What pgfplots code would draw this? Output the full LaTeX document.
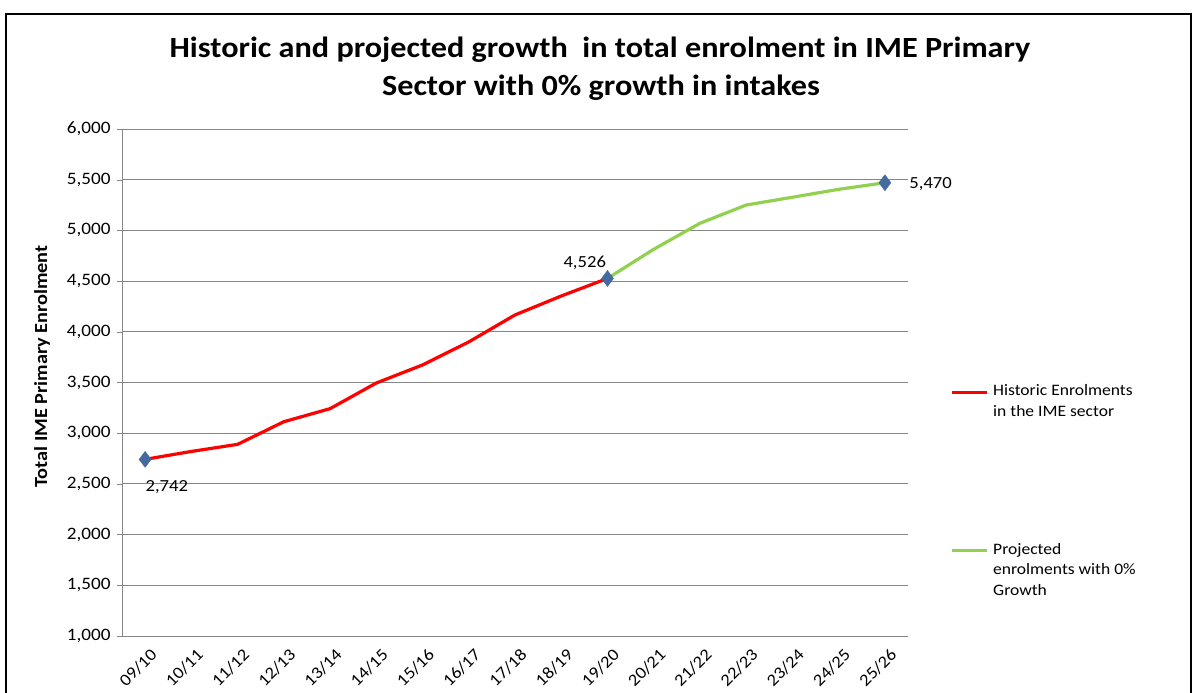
\documentclass[border=0pt]{standalone}
\usepackage{fontspec}
\setmainfont[FakeStretch=1.1]{Carlito}
\usepackage{pgfplots}
\pgfplotsset{compat=1.18}
\definecolor{histred}{RGB}{255,0,0}
\definecolor{projgreen}{RGB}{146,208,80}
\definecolor{mkblue}{RGB}{68,106,160}
\definecolor{gridgray}{RGB}{134,134,134}
\begin{document}
\begin{tikzpicture}[x=1bp,y=1bp]
\useasboundingbox (0,0) rectangle (1194,693);
\draw[line width=2.5bp] (6,679) rectangle (1191,-10);
% title
\node[anchor=base, font=\bfseries\fontsize{29.4}{34}\selectfont] at (600,635) {Historic and projected growth\ \ in total enrolment in IME Primary};
\node[anchor=base, font=\bfseries\fontsize{29.4}{34}\selectfont] at (601,597) {Sector with 0\% growth in intakes};
\begin{axis}[
    at={(122bp,57bp)}, anchor=south west,
    scale only axis, width=786bp, height=507bp,
    xmin=-0.5, xmax=16.5,
    ymin=1000, ymax=6000,
    xtick={0,...,16},
    xticklabels={09/10,10/11,11/12,12/13,13/14,14/15,15/16,16/17,17/18,18/19,19/20,20/21,21/22,22/23,23/24,24/25,25/26},
    ytick={1000,1500,...,6000},
    yticklabel={\pgfmathprintnumber[fixed,1000 sep={,}]{\tick}},
    scaled y ticks=false,
    axis lines*=left,
    axis line style={-, gridgray},
    ymajorgrids, grid style={gridgray, line width=0.8bp},
    tick pos=left, tick align=outside,
    xtick style={draw=none},
    ytick style={gridgray},
    major tick length=5bp,
    y tick label style={font=\fontsize{17.5}{20}\selectfont, xshift=-3bp},
    x tick label style={font=\fontsize{17}{20}\selectfont, rotate=45, anchor=east, xshift=2bp, yshift=-14bp},
    ylabel={\bfseries Total IME Primary Enrolment},
    ylabel style={font=\fontsize{18.5}{21}\selectfont, at={(-80bp,0.5316)}, anchor=center},
    /pgf/number format/assume math mode=true,
    legend style={at={(1.0534,0.501)}, anchor=north west, draw=none, fill=none,
      inner sep=0pt, outer sep=0pt, row sep=0pt, column sep=5bp,
      nodes={inner sep=0pt, text height=14bp, text depth=6.3bp, font=\fontsize{16}{19}\selectfont}},
    legend cell align=left,
    legend image code/.code={\draw[#1] (0bp,0bp)--(35bp,0bp);},
    clip=false,
]
\addplot[histred, line width=3.2bp, forget plot] coordinates {
    (0,2742) (1,2820) (2,2890) (3,3113) (4,3242) (5,3495)
    (6,3673) (7,3900) (8,4166) (9,4353) (10,4526)
};
\addplot[projgreen, line width=3.2bp, forget plot] coordinates {
    (10,4526) (11,4814) (12,5070) (13,5250) (14,5327) (15,5405) (16,5470)
};
\addplot[only marks, mark=diamond*, mark size=8bp, mkblue, forget plot] coordinates {
    (0,2742) (10,4526) (16,5470)
};
\node[anchor=base west, font=\fontsize{17}{20}\selectfont, xshift=-3bp, yshift=-32bp] at (axis cs:0,2742) {2,742};
\node[anchor=base east, font=\fontsize{17}{20}\selectfont, xshift=2bp, yshift=11bp] at (axis cs:10,4526) {4,526};
\node[anchor=base west, font=\fontsize{17}{20}\selectfont, xshift=21bp, yshift=-6bp] at (axis cs:16,5470) {5,470};
% legend
\addlegendimage{histred, line width=3.2bp}
\addlegendentry{Historic Enrolments}
\addlegendimage{empty legend}
\addlegendentry{in the IME sector}
\addlegendimage{empty legend}
\addlegendentry[text height=118bp, text depth=0bp]{}
\addlegendimage{projgreen, line width=3.2bp}
\addlegendentry{Projected}
\addlegendimage{empty legend}
\addlegendentry{enrolments with 0\%}
\addlegendimage{empty legend}
\addlegendentry{Growth}
\end{axis}
\end{tikzpicture}
\end{document}
